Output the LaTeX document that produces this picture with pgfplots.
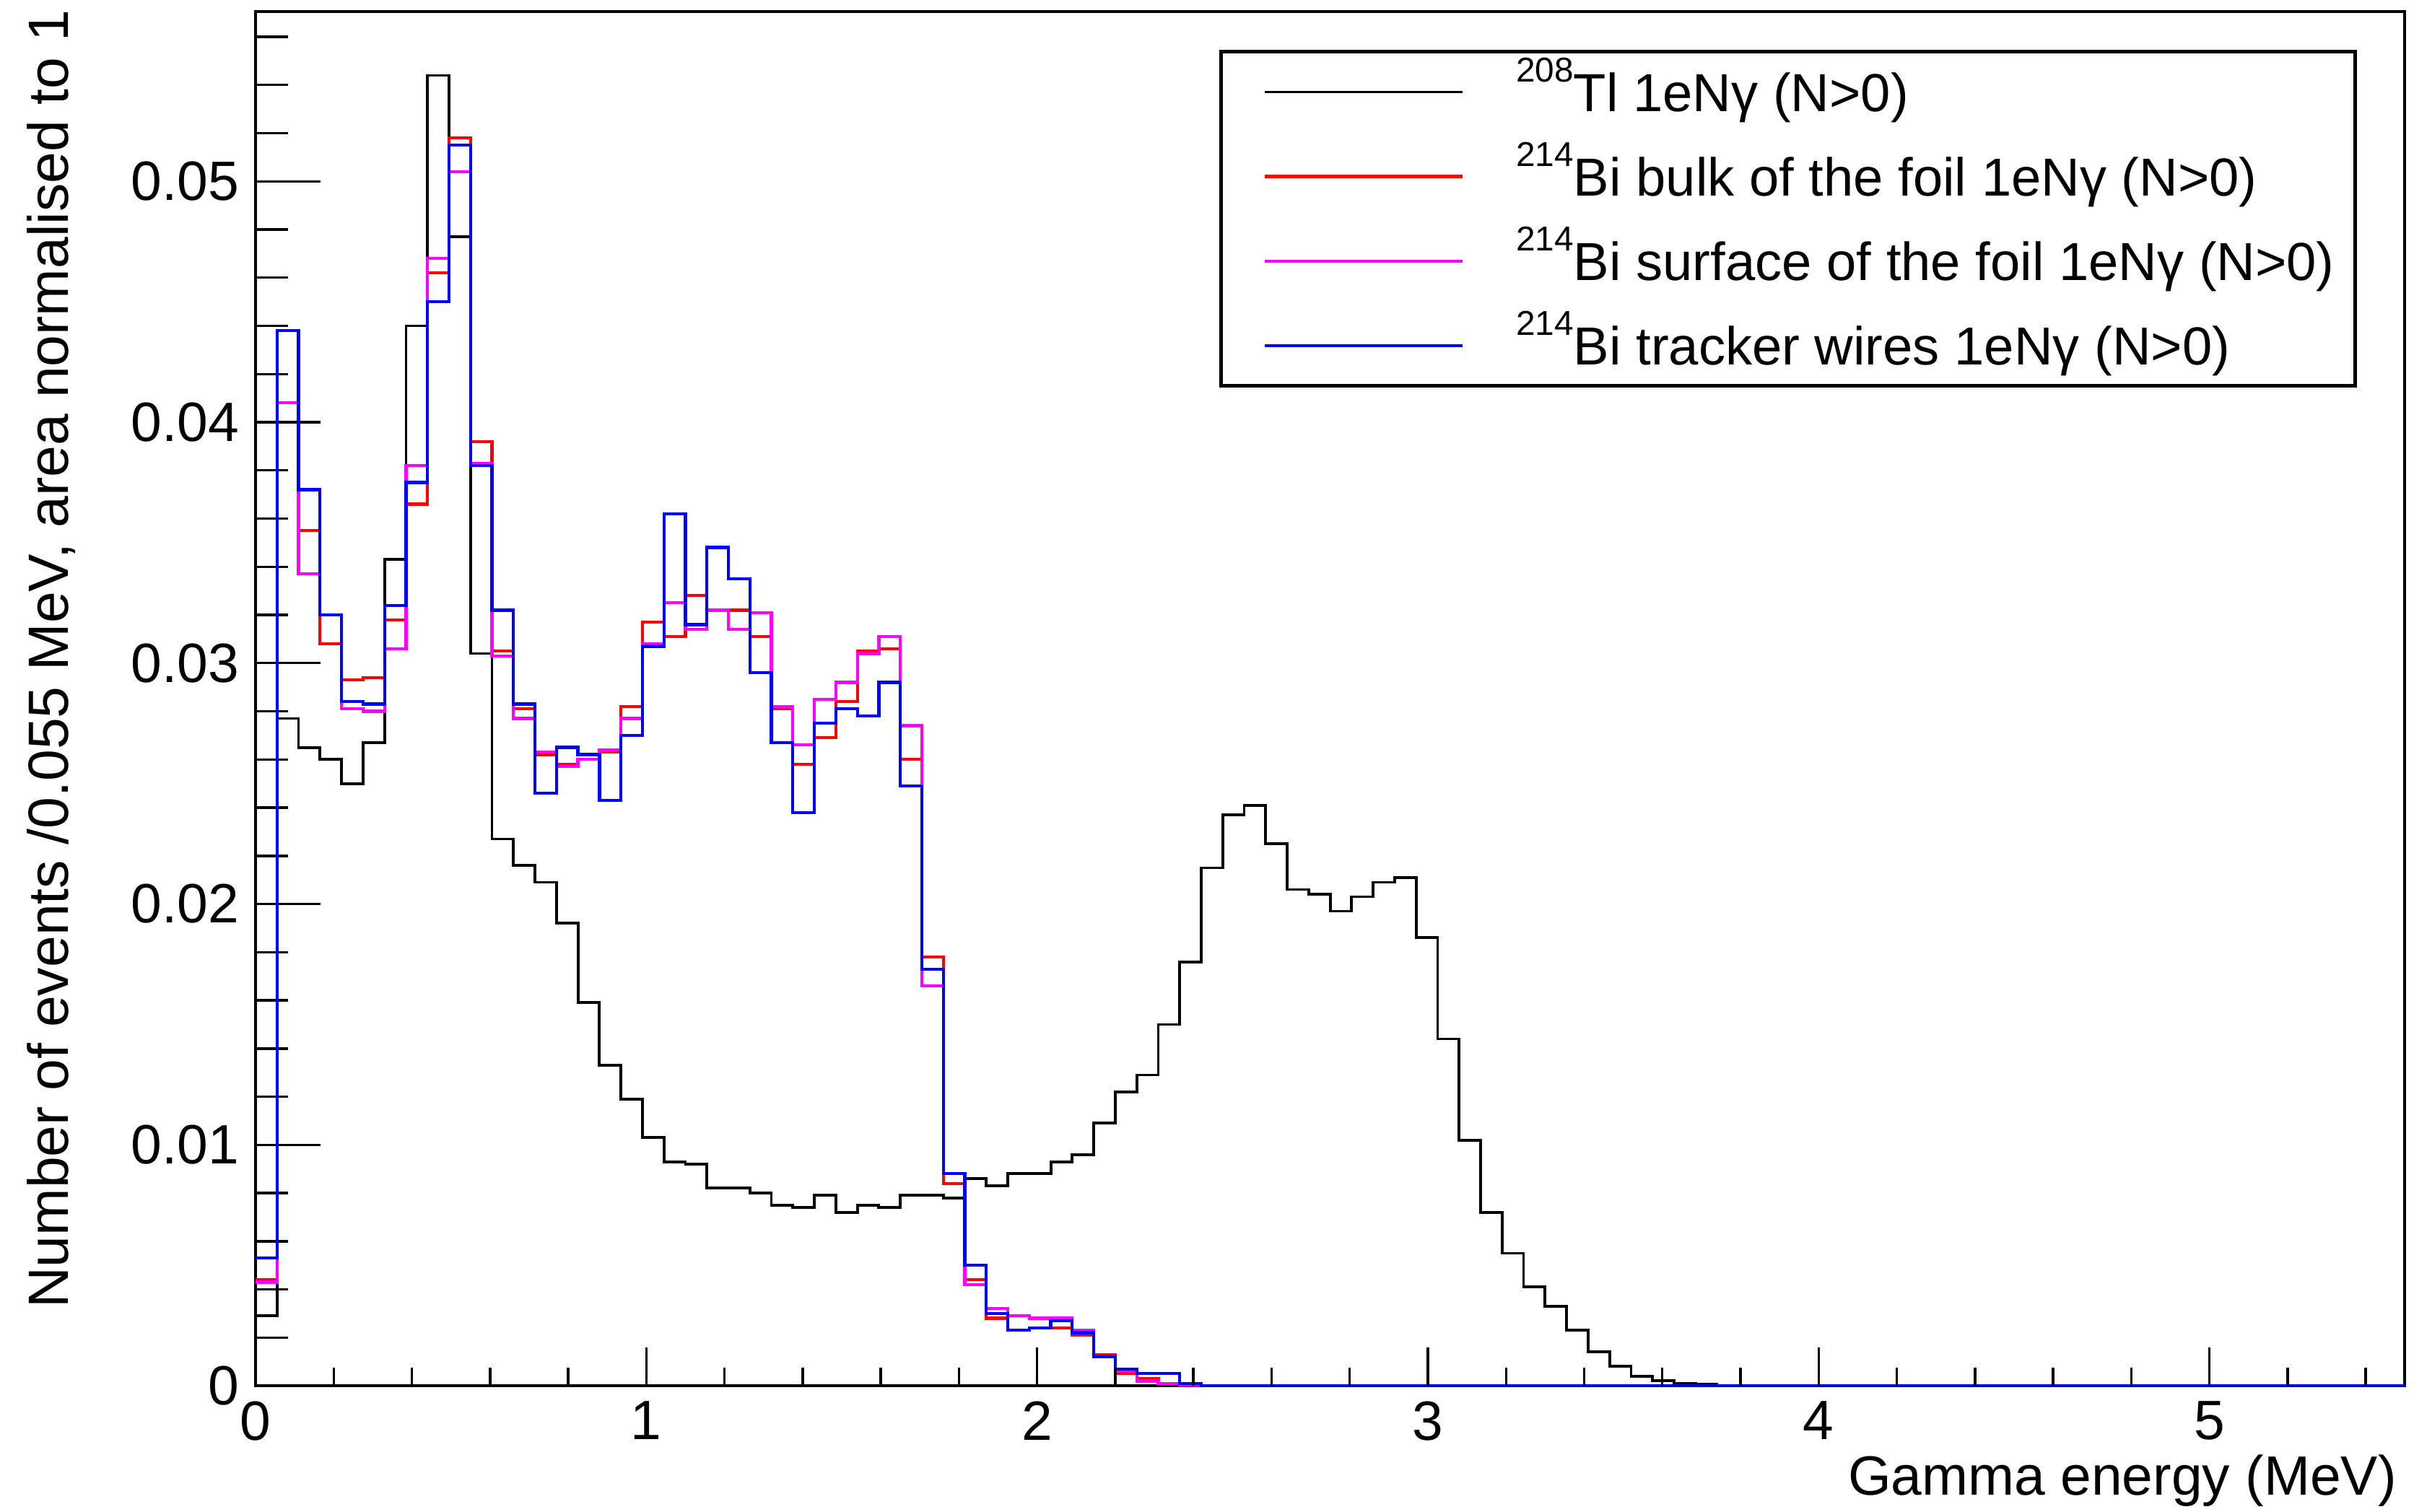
\documentclass[border=0pt]{standalone}
\usepackage{fontspec}
\setmainfont{Liberation Sans}
\usepackage{pgfplots}
\usepackage{pgfplotstable}
\pgfplotsset{compat=1.18}

\definecolor{rootred}{RGB}{255,0,0}
\definecolor{rootmagenta}{RGB}{255,0,255}
\definecolor{rootblue}{RGB}{0,0,255}

\newcommand\sups[1]{\raisebox{9.6pt}{\fontsize{11.2}{11.2}\selectfont #1}}
\newcommand\legtext[1]{\makebox[258.7pt][l]{\rule[-2.6pt]{0pt}{16.6pt}\smash{#1}}}

% bin left edge, Tl-208, Bi-214 bulk, Bi-214 surface, Bi-214 wires
\pgfplotstableread{
x      tl      bulk    surf    wires
0.000  0.0029  0.0044  0.0043  0.0053
0.055  0.0277  0.0408  0.0408  0.0438
0.110  0.0265  0.0355  0.0337  0.0372
0.165  0.0260  0.0308  0.0320  0.0320
0.220  0.0250  0.0293  0.0281  0.0284
0.275  0.0267  0.0294  0.0280  0.0283
0.330  0.0343  0.0318  0.0306  0.0324
0.385  0.0440  0.0366  0.0382  0.0375
0.440  0.0544  0.0462  0.0468  0.0450
0.495  0.0477  0.0518  0.0504  0.0515
0.550  0.0304  0.0392  0.0383  0.0382
0.605  0.0227  0.0305  0.0303  0.0322
0.660  0.0216  0.0281  0.0277  0.0283
0.715  0.0209  0.0262  0.0263  0.0246
0.770  0.0192  0.0258  0.0257  0.0265
0.825  0.0159  0.0260  0.0260  0.0262
0.880  0.0133  0.0263  0.0264  0.0243
0.935  0.0119  0.0282  0.0277  0.0270
0.990  0.0103  0.0317  0.0308  0.0307
1.045  0.0093  0.0311  0.0325  0.0362
1.100  0.0092  0.0328  0.0314  0.0316
1.155  0.0082  0.0322  0.0322  0.0348
1.210  0.0082  0.0322  0.0314  0.0335
1.265  0.0080  0.0311  0.0321  0.0296
1.320  0.0075  0.0281  0.0282  0.0267
1.375  0.0074  0.0258  0.0266  0.0238
1.430  0.0079  0.0269  0.0285  0.0275
1.485  0.0072  0.0284  0.0292  0.0281
1.540  0.0075  0.0305  0.0304  0.0278
1.595  0.0074  0.0306  0.0311  0.0292
1.650  0.0079  0.0260  0.0274  0.0249
1.705  0.0079  0.0178  0.0166  0.0173
1.760  0.0078  0.0084  0.0088  0.0088
1.815  0.0086  0.0044  0.0042  0.0050
1.870  0.0083  0.0028  0.0032  0.0030
1.925  0.0088  0.0023  0.0029  0.0023
1.980  0.0088  0.0024  0.0028  0.0024
2.035  0.0093  0.0024  0.0028  0.0027
2.090  0.0096  0.0021  0.0023  0.0022
2.145  0.0109  0.0013  0.0012  0.0012
2.200  0.0122  0.0005  0.0006  0.0007
2.255  0.0129  0.0003  0.0002  0.0005
2.310  0.0150  0.0001  0.0001  0.0005
2.365  0.0176  0.0000  0.00005 0.0001
2.420  0.0215  0.0000  0.0000  0.0000
2.475  0.0237  0.0000  0.0000  0.0000
2.530  0.0241  0.0000  0.0000  0.0000
2.585  0.0225  0.0000  0.0000  0.0000
2.640  0.0206  0.0000  0.0000  0.0000
2.695  0.0204  0.0000  0.0000  0.0000
2.750  0.0197  0.0000  0.0000  0.0000
2.805  0.0203  0.0000  0.0000  0.0000
2.860  0.0209  0.0000  0.0000  0.0000
2.915  0.0211  0.0000  0.0000  0.0000
2.970  0.0186  0.0000  0.0000  0.0000
3.025  0.0144  0.0000  0.0000  0.0000
3.080  0.0102  0.0000  0.0000  0.0000
3.135  0.0072  0.0000  0.0000  0.0000
3.190  0.0055  0.0000  0.0000  0.0000
3.245  0.0041  0.0000  0.0000  0.0000
3.300  0.0033  0.0000  0.0000  0.0000
3.355  0.0023  0.0000  0.0000  0.0000
3.410  0.0014  0.0000  0.0000  0.0000
3.465  0.0008  0.0000  0.0000  0.0000
3.520  0.0004  0.0000  0.0000  0.0000
3.575  0.0002  0.0000  0.0000  0.0000
3.630  0.0001  0.0000  0.0000  0.0000
3.685  0.00005 0.0000  0.0000  0.0000
3.740  0.0000  0.0000  0.0000  0.0000
5.500  0.0000  0.0000  0.0000  0.0000
}\hist

\begin{document}
\begin{tikzpicture}
\useasboundingbox (-83pt,-41pt) rectangle (701pt,450.15pt);
\begin{axis}[
  at={(0,0)}, anchor=south west,
  scale only axis, width=698pt, height=446.4pt,
  xmin=0, xmax=5.5, ymin=0, ymax=0.05705,
  scaled ticks=false,
  axis line style={line width=1pt},
  xtick=\empty,
  ytick={0,0.01,0.02,0.03,0.04,0.05},
  yticklabels={0,0.01,0.02,0.03,0.04,0.05},
  minor ytick={0.002,0.004,0.006,0.008,0.012,0.014,0.016,0.018,0.022,0.024,0.026,0.028,0.032,0.034,0.036,0.038,0.042,0.044,0.046,0.048,0.052,0.054,0.056},
  ytick pos=left, tick align=inside,
  major tick length=21pt, minor tick length=10.5pt,
  every tick/.style={black, line width=0.8pt},
  yticklabel style={font=\fontsize{18}{18}\selectfont, inner sep=0pt, xshift=-5.2pt},
  ylabel={Number of events /0.055 MeV, area normalised to 1},
  every axis y label/.style={at={(axis description cs:-0.08703,1.0017)}, rotate=90, anchor=base east, inner sep=0pt, font=\fontsize{18.45}{18.45}\selectfont},
  xlabel={Gamma energy (MeV)},
  every axis x label/.style={at={(axis description cs:0.99642,-0.07964)}, anchor=base east, inner sep=0pt, font=\fontsize{18}{18}\selectfont},
  legend cell align=left,
  legend style={
    at={(1,1)}, anchor=north east,
    xshift=-15.5pt, yshift=-12.5pt,
    draw=black, line width=1.2pt,
    inner xsep=13.8pt, inner ysep=5.3pt,
    column sep=16.95pt, row sep=11.95pt,
    font=\fontsize{17.4}{17.4}\selectfont,
    nodes={inner sep=0pt},
  },
  legend image code/.code={\draw[#1] (0pt,0pt) -- (64.15pt,0pt);},
]
\addplot[const plot, black, line width=0.9pt] table[x=x, y=tl] {\hist};
\addlegendentry{\legtext{\sups{208}Tl 1eNγ (N>0)}}
\addplot[const plot, rootred, line width=1pt] table[x=x, y=bulk] {\hist};
\addlegendentry{\legtext{\sups{214}Bi bulk of the foil 1eNγ (N>0)}}
\addplot[const plot, rootmagenta, line width=1pt] table[x=x, y=surf] {\hist};
\addlegendentry{\legtext{\sups{214}Bi surface of the foil 1eNγ (N>0)}}
\addplot[const plot, rootblue, line width=1pt] table[x=x, y=wires] {\hist};
\addlegendentry{\legtext{\sups{214}Bi tracker wires 1eNγ (N>0)}}
\end{axis}
\begin{axis}[
  at={(0,0)}, anchor=south west,
  scale only axis, width=698pt, height=446.4pt,
  xmin=0, xmax=5.5, ymin=0, ymax=0.05705,
  scaled ticks=false,
  axis line style={draw=none},
  ytick=\empty,
  xtick={0,1,2,3,4,5}, xticklabels={0,1,2,3,4,5},
  minor xtick={0.2,0.4,0.6,0.8,1.2,1.4,1.6,1.8,2.2,2.4,2.6,2.8,3.2,3.4,3.6,3.8,4.2,4.4,4.6,4.8,5.2,5.4},
  xtick pos=bottom, tick align=inside,
  major tick length=12.5pt, minor tick length=5.9pt,
  every tick/.style={black, line width=0.8pt},
  xticklabel style={font=\fontsize{18}{18}\selectfont, inner sep=0pt, yshift=-4.85pt},
]
\end{axis}
\end{tikzpicture}
\end{document}
